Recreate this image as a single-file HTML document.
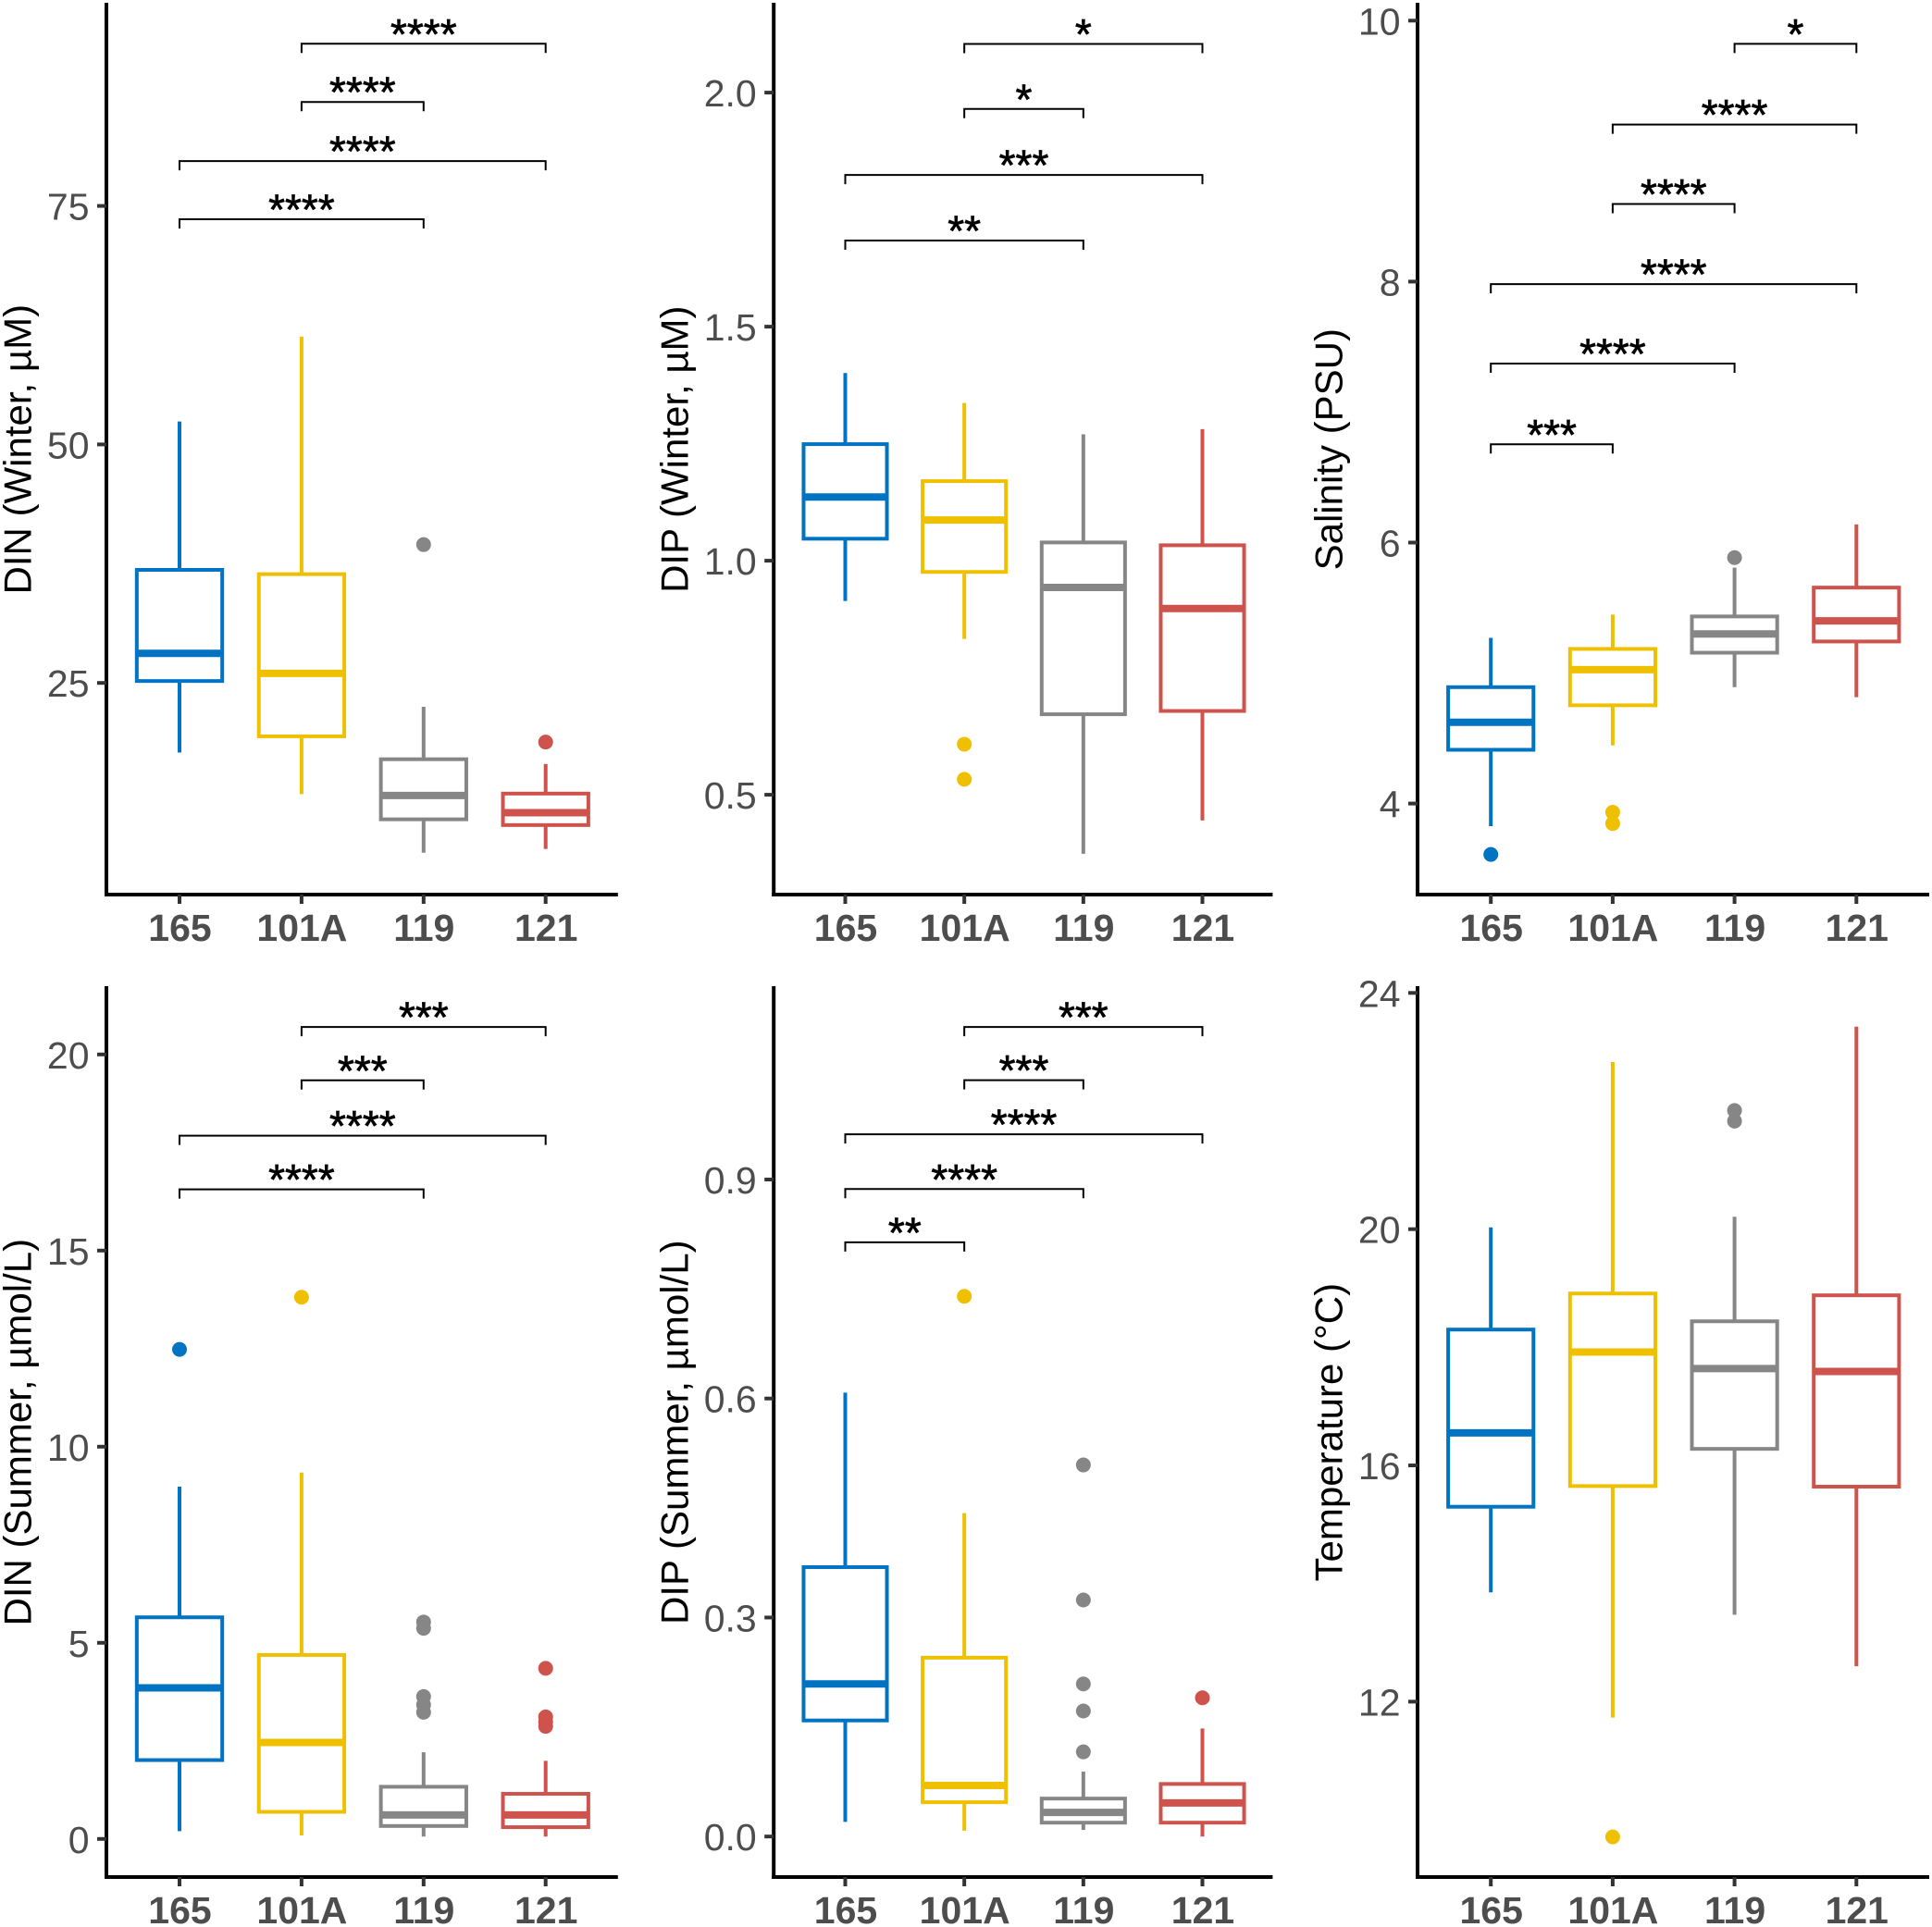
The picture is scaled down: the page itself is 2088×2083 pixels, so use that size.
<!DOCTYPE html>
<html>
<head>
<meta charset="utf-8">
<title>Boxplots by station</title>
<style>
html,body{margin:0;padding:0;background:#fff;}
svg{display:block;}
text{font-family:"Liberation Sans",Arial,sans-serif;}
</style>
</head>
<body>
<svg id="chart" xmlns="http://www.w3.org/2000/svg" width="2088" height="2083" viewBox="0 0 2088 2083"></svg>
<script>
const stations = ['165', '101A', '119', '121'];
const colors = ['#0073C2', '#EFC000', '#868686', '#CD534C'];

/* DIN winter */
const dinWinterTicks = [25, 50, 75];
const dinWinterTickLabels = ['25', '50', '75'];
const dinWinterHigh = [52.4, 61.3, 22.5, 16.5];
const dinWinterQ3 = [36.85, 36.4, 17.0, 13.4];
const dinWinterMedian = [28.1, 26.0, 13.2, 11.4];
const dinWinterQ1 = [25.2, 19.4, 10.7, 10.1];
const dinWinterLow = [17.7, 13.35, 7.2, 7.6];
const dinWinterOutliers = [[], [], [39.5], [18.8]];
const dinWinterSigY = [92.0, 85.9, 79.7, 73.6];
const dinWinterSigFrom = [1, 1, 0, 0];
const dinWinterSigTo = [3, 2, 3, 2];
const dinWinterSigLabels = ['****', '****', '****', '****'];

/* DIP winter */
const dipWinterTicks = [0.5, 1.0, 1.5, 2.0];
const dipWinterTickLabels = ['0.5', '1.0', '1.5', '2.0'];
const dipWinterHigh = [1.401, 1.337, 1.27, 1.281];
const dipWinterQ3 = [1.249, 1.17, 1.039, 1.033];
const dipWinterMedian = [1.136, 1.087, 0.943, 0.898];
const dipWinterQ1 = [1.047, 0.976, 0.672, 0.679];
const dipWinterLow = [0.914, 0.833, 0.374, 0.445];
const dipWinterOutliers = [[], [0.608, 0.533], [], []];
const dipWinterSigY = [2.104, 1.965, 1.824, 1.684];
const dipWinterSigFrom = [1, 1, 0, 0];
const dipWinterSigTo = [3, 2, 3, 2];
const dipWinterSigLabels = ['*', '*', '***', '**'];

/* Salinity */
const salinityTicks = [4, 6, 8, 10];
const salinityTickLabels = ['4', '6', '8', '10'];
const salinityHigh = [5.27, 5.448, 5.808, 6.139];
const salinityQ3 = [4.892, 5.185, 5.434, 5.655];
const salinityMedian = [4.623, 5.026, 5.3, 5.4];
const salinityQ1 = [4.412, 4.753, 5.156, 5.242];
const salinityLow = [3.827, 4.446, 4.892, 4.815];
const salinityOutliers = [[3.61], [3.933, 3.847], [5.885], []];
const salinitySigY = [9.822, 9.204, 8.595, 7.981, 7.372, 6.753];
const salinitySigFrom = [2, 1, 1, 0, 0, 0];
const salinitySigTo = [3, 3, 2, 3, 2, 1];
const salinitySigLabels = ['*', '****', '****', '****', '****', '***'];

/* DIN summer */
const dinSummerTicks = [0, 5, 10, 15, 20];
const dinSummerTickLabels = ['0', '5', '10', '15', '20'];
const dinSummerHigh = [8.98, 9.34, 2.21, 1.99];
const dinSummerQ3 = [5.65, 4.69, 1.33, 1.15];
const dinSummerMedian = [3.85, 2.46, 0.61, 0.61];
const dinSummerQ1 = [2.01, 0.69, 0.33, 0.3];
const dinSummerLow = [0.2, 0.09, 0.06, 0.06];
const dinSummerOutliers = [[12.48], [13.81], [5.53, 5.37, 3.63, 3.42, 3.23], [4.35, 3.11, 2.98, 2.87]];
const dinSummerSigY = [20.7, 19.34, 17.93, 16.56];
const dinSummerSigFrom = [1, 1, 0, 0];
const dinSummerSigTo = [3, 2, 3, 2];
const dinSummerSigLabels = ['***', '***', '****', '****'];

/* DIP summer */
const dipSummerTicks = [0, 0.3, 0.6, 0.9];
const dipSummerTickLabels = ['0.0', '0.3', '0.6', '0.9'];
const dipSummerHigh = [0.608, 0.443, 0.089, 0.148];
const dipSummerQ3 = [0.369, 0.245, 0.052, 0.072];
const dipSummerMedian = [0.209, 0.07, 0.033, 0.046];
const dipSummerQ1 = [0.159, 0.047, 0.019, 0.019];
const dipSummerLow = [0.02, 0.008, 0.009, 0];
const dipSummerOutliers = [[], [0.74], [0.509, 0.324, 0.209, 0.172, 0.116], [0.19]];
const dipSummerSigY = [1.109, 1.036, 0.962, 0.887, 0.814];
const dipSummerSigFrom = [1, 1, 0, 0, 0];
const dipSummerSigTo = [3, 2, 3, 2, 1];
const dipSummerSigLabels = ['***', '***', '****', '****', '**'];

/* Temperature */
const temperatureTicks = [12, 16, 20, 24];
const temperatureTickLabels = ['12', '16', '20', '24'];
const temperatureHigh = [20.03, 22.83, 20.21, 23.43];
const temperatureQ3 = [18.3, 18.91, 18.44, 18.88];
const temperatureMedian = [16.55, 17.92, 17.64, 17.59];
const temperatureQ1 = [15.3, 15.65, 16.28, 15.64];
const temperatureLow = [13.85, 11.73, 13.47, 12.6];
const temperatureOutliers = [[], [9.71], [22.01, 21.83], []];
const temperatureSigY = [];
const temperatureSigFrom = [];
const temperatureSigTo = [];
const temperatureSigLabels = [];

const SVG_NS = 'http://www.w3.org/2000/svg';
const root = document.getElementById('chart');

function mk(tag, parent) {
  const el = document.createElementNS(SVG_NS, tag);
  parent.appendChild(el);
  return el;
}
function setAll(el, props) {
  for (const k in props) el.setAttribute(k, props[k]);
}
function linearScale(v1, p1, v2, p2) {
  const k = (p2 - p1) / (v2 - v1);
  return function (v) { return p1 + (v - v1) * k; };
}

function drawPanel(cfg) {
  const g = mk('g', root);
  
  

  const y = linearScale(cfg.v1, cfg.y1, cfg.v2, cfg.y2);
  const step = (cfg.xLast - cfg.xFirst) / (stations.length - 1);
  const x = function (i) { return cfg.xFirst + i * step; };
  const boxW = step * 0.7;

  /* significance brackets */
  cfg.sigY.forEach(function (val, i) {
    const x1 = x(cfg.sigFrom[i]);
    const x2 = x(cfg.sigTo[i]);
    const yy = y(val);
    const br = mk('path', g);
    
    
    setAll(br, { d: 'M' + x1 + ' ' + (yy + 10) + 'V' + yy + 'H' + x2 + 'V' + (yy + 10), fill: 'none', stroke: '#000', 'stroke-width': 2 });
    const st = mk('text', g);
    
    
    setAll(st, { x: (x1 + x2) / 2, y: yy + 5.5, 'text-anchor': 'middle', 'font-size': 46, fill: '#000', stroke: '#000', 'stroke-width': 0.7 });
    st.textContent = cfg.sigLabels[i];
  });

  /* boxes */
  stations.forEach(function (name, i) {
    const c = colors[i];
    const cx = x(i);
    const bg = mk('g', g);
    
    

    const wh = mk('line', bg);
    
    
    setAll(wh, { x1: cx, x2: cx, y1: y(cfg.high[i]), y2: y(cfg.q3[i]), stroke: c, 'stroke-width': 4 });

    const wl = mk('line', bg);
    
    
    setAll(wl, { x1: cx, x2: cx, y1: y(cfg.q1[i]), y2: y(cfg.low[i]), stroke: c, 'stroke-width': 4 });

    const r = mk('rect', bg);
    
    
    setAll(r, { x: cx - boxW / 2, width: boxW, y: y(cfg.q3[i]), height: y(cfg.q1[i]) - y(cfg.q3[i]), fill: 'none', stroke: c, 'stroke-width': 4 });

    const m = mk('line', bg);
    
    
    setAll(m, { x1: cx - boxW / 2, x2: cx + boxW / 2, y1: y(cfg.median[i]), y2: y(cfg.median[i]), stroke: c, 'stroke-width': 8 });

    cfg.outliers[i].forEach(function (v) {
      const o = mk('circle', bg);
      
      
      setAll(o, { cx: cx, cy: y(v), r: 8, fill: c });
    });
  });

  /* y axis */
  const ya = mk('line', g);
  
  
  setAll(ya, { x1: cfg.axisX, x2: cfg.axisX, y1: cfg.top, y2: cfg.bottom + 2, stroke: '#000', 'stroke-width': 4 });

  cfg.ticks.forEach(function (t, i) {
    const tk = mk('line', g);
    
    
    setAll(tk, { x1: cfg.axisX - 10, x2: cfg.axisX, y1: y(t), y2: y(t), stroke: '#333', 'stroke-width': 4 });
    const tl = mk('text', g);
    
    
    setAll(tl, { x: cfg.axisX - 18.5, y: y(t) + 15, 'text-anchor': 'end', 'font-size': 41, fill: '#4D4D4D' });
    tl.textContent = cfg.tickLabels[i];
  });

  /* x axis */
  const xa = mk('line', g);
  
  
  setAll(xa, { x1: cfg.axisX - 2, x2: cfg.right, y1: cfg.bottom, y2: cfg.bottom, stroke: '#000', 'stroke-width': 4 });

  stations.forEach(function (name, i) {
    const tk = mk('line', g);
    
    
    setAll(tk, { x1: x(i), x2: x(i), y1: cfg.bottom, y2: cfg.bottom + 10, stroke: '#333', 'stroke-width': 4 });
    const tl = mk('text', g);
    
    
    setAll(tl, { x: x(i) + 0.5, y: cfg.bottom + 50, 'text-anchor': 'middle', 'font-size': 41, 'font-weight': 'bold', fill: '#4D4D4D' });
    tl.textContent = name;
  });

  /* y axis title */
  const tt = mk('text', g);
  
  
  const mid = (cfg.top + cfg.bottom) / 2 + 0.7;
  setAll(tt, { transform: 'translate(' + cfg.titleX + ' ' + mid + ') rotate(-90)', 'text-anchor': 'middle', 'font-size': 42, fill: '#000' });
  tt.textContent = cfg.title;
}

drawPanel({ id: 'din-winter', title: 'DIN (Winter, µM)', titleX: 33.5,
  axisX: 115, right: 667.8, top: 3, bottom: 967, xFirst: 194, xLast: 589.7,
  v1: 25, y1: 738.2, v2: 75, y2: 222.6,
  ticks: dinWinterTicks, tickLabels: dinWinterTickLabels,
  high: dinWinterHigh, q3: dinWinterQ3, median: dinWinterMedian, q1: dinWinterQ1, low: dinWinterLow, outliers: dinWinterOutliers,
  sigY: dinWinterSigY, sigFrom: dinWinterSigFrom, sigTo: dinWinterSigTo, sigLabels: dinWinterSigLabels });

drawPanel({ id: 'dip-winter', title: 'DIP (Winter, µM)', titleX: 743.3,
  axisX: 836.2, right: 1375.4, top: 3, bottom: 967, xFirst: 913.5, xLast: 1299.5,
  v1: 0.5, y1: 859.1, v2: 2.0, y2: 100.1,
  ticks: dipWinterTicks, tickLabels: dipWinterTickLabels,
  high: dipWinterHigh, q3: dipWinterQ3, median: dipWinterMedian, q1: dipWinterQ1, low: dipWinterLow, outliers: dipWinterOutliers,
  sigY: dipWinterSigY, sigFrom: dipWinterSigFrom, sigTo: dipWinterSigTo, sigLabels: dipWinterSigLabels });

drawPanel({ id: 'salinity', title: 'Salinity (PSU)', titleX: 1450.5,
  axisX: 1532, right: 2085, top: 3, bottom: 967, xFirst: 1611.2, xLast: 2006.3,
  v1: 4, y1: 868.6, v2: 10, y2: 22.3,
  ticks: salinityTicks, tickLabels: salinityTickLabels,
  high: salinityHigh, q3: salinityQ3, median: salinityMedian, q1: salinityQ1, low: salinityLow, outliers: salinityOutliers,
  sigY: salinitySigY, sigFrom: salinitySigFrom, sigTo: salinitySigTo, sigLabels: salinitySigLabels });

drawPanel({ id: 'din-summer', title: 'DIN (Summer, µmol/L)', titleX: 33.5,
  axisX: 115, right: 667.8, top: 1066, bottom: 2029, xFirst: 194, xLast: 589.7,
  v1: 0, y1: 1987.8, v2: 20, y2: 1139.8,
  ticks: dinSummerTicks, tickLabels: dinSummerTickLabels,
  high: dinSummerHigh, q3: dinSummerQ3, median: dinSummerMedian, q1: dinSummerQ1, low: dinSummerLow, outliers: dinSummerOutliers,
  sigY: dinSummerSigY, sigFrom: dinSummerSigFrom, sigTo: dinSummerSigTo, sigLabels: dinSummerSigLabels });

drawPanel({ id: 'dip-summer', title: 'DIP (Summer, µmol/L)', titleX: 743.3,
  axisX: 836.2, right: 1375.4, top: 1066, bottom: 2029, xFirst: 913.5, xLast: 1299.5,
  v1: 0, y1: 1985.2, v2: 0.9, y2: 1275,
  ticks: dipSummerTicks, tickLabels: dipSummerTickLabels,
  high: dipSummerHigh, q3: dipSummerQ3, median: dipSummerMedian, q1: dipSummerQ1, low: dipSummerLow, outliers: dipSummerOutliers,
  sigY: dipSummerSigY, sigFrom: dipSummerSigFrom, sigTo: dipSummerSigTo, sigLabels: dipSummerSigLabels });

drawPanel({ id: 'temperature', title: 'Temperature (°C)', titleX: 1450.5,
  axisX: 1532, right: 2085, top: 1066, bottom: 2029, xFirst: 1611.2, xLast: 2006.3,
  v1: 12, y1: 1839.4, v2: 24, y2: 1073.3,
  ticks: temperatureTicks, tickLabels: temperatureTickLabels,
  high: temperatureHigh, q3: temperatureQ3, median: temperatureMedian, q1: temperatureQ1, low: temperatureLow, outliers: temperatureOutliers,
  sigY: temperatureSigY, sigFrom: temperatureSigFrom, sigTo: temperatureSigTo, sigLabels: temperatureSigLabels });
</script>
</body>
</html>
